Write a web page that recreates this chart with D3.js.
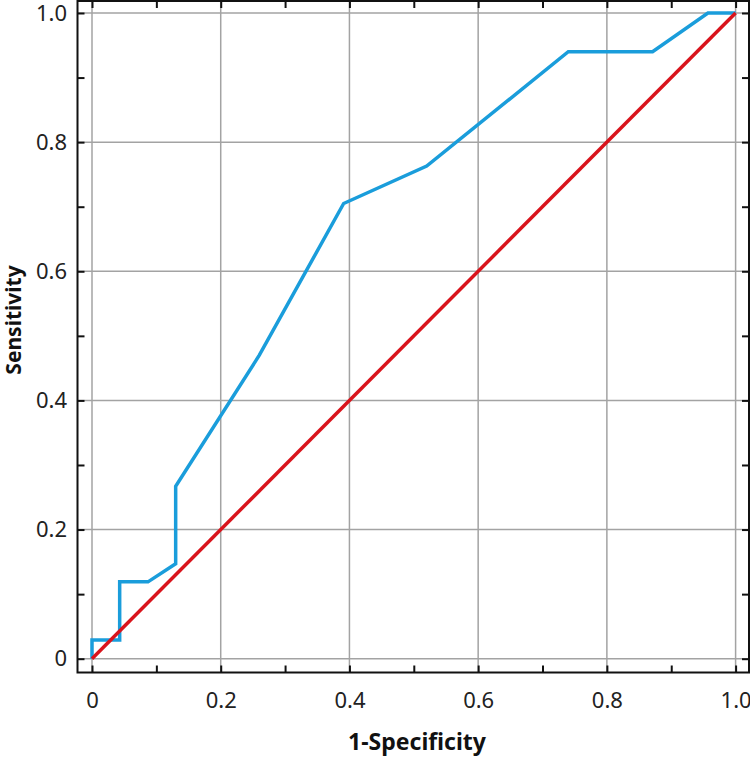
<!DOCTYPE html>
<html>
<head>
<meta charset="utf-8">
<script src="https://cdn.jsdelivr.net/npm/d3@7"></script>
<style>
  body { margin: 0; background: #fff; }
  text { font-family: "Noto Sans", "Open Sans", sans-serif; }
</style>
</head>
<body>
<div id="chart-container"></div>
<script>
// ROC curve points (1-specificity, sensitivity)
var fpr = [0, 0, 0.043, 0.043, 0.087, 0.13, 0.13, 0.26, 0.391, 0.52, 0.74, 0.871, 0.957, 1.0];
var tpr = [0, 0.029, 0.029, 0.119, 0.119, 0.147, 0.267, 0.47, 0.705, 0.763, 0.94, 0.94, 1.0, 1.0];
// reference diagonal
var refX = [0, 1];
var refY = [0, 1];

var majorTicks = [0, 0.2, 0.4, 0.6, 0.8, 1.0];
var minorTicks = [0.1, 0.3, 0.5, 0.7, 0.9];
var tickLabels = ["0", "0.2", "0.4", "0.6", "0.8", "1.0"];

var width = 750,
    height = 757;

var svg = d3.select("#chart-container")
  .append("svg")
    .attr("width", width)
    .attr("height", height)
    .style("background", "#fff");

// scales: 0..1 maps to the inner area, frame sits a little outside
var xScale = d3.scaleLinear().domain([0, 1]).range([92, 735.6]);
var yScale = d3.scaleLinear().domain([0, 1]).range([658.7, 13]);

var frame = {left: 77.5, right: 749, top: 1, bottom: 672.5};

// gridlines
var grid = svg.append("g");
grid.selectAll(".gx")
  .data(majorTicks)
  .enter()
  .append("line")
    .attr("x1", d => xScale(d)).attr("x2", d => xScale(d))
    .attr("y1", frame.top).attr("y2", frame.bottom)
    .attr("stroke", "#a3a3a3")
    .attr("stroke-width", 1.5);
grid.selectAll(".gy")
  .data(majorTicks)
  .enter()
  .append("line")
    .attr("y1", d => yScale(d)).attr("y2", d => yScale(d))
    .attr("x1", frame.left).attr("x2", frame.right)
    .attr("stroke", "#a3a3a3")
    .attr("stroke-width", 1.5);

// ROC curve
var line = d3.line()
  .x(d => xScale(d[0]))
  .y(d => yScale(d[1]));

svg.append("path")
  .datum(fpr.map((v, i) => [v, tpr[i]]))
  .attr("d", line)
  .attr("fill", "none")
  .attr("stroke", "#1a9ddb")
  .attr("stroke-width", 3.5)
  .attr("stroke-linejoin", "miter");

// diagonal
svg.append("path")
  .datum(refX.map((v, i) => [v, refY[i]]))
  .attr("d", line)
  .attr("fill", "none")
  .attr("stroke", "#d9141c")
  .attr("stroke-width", 3.5);

// axes with inward ticks on all four sides
var allTicks = majorTicks.concat(minorTicks);
var tickLen = 7;

function fmt(d) {
  var i = majorTicks.indexOf(d);
  return i >= 0 ? tickLabels[i] : "";
}

var xBottom = svg.append("g")
  .attr("transform", "translate(0," + frame.bottom + ")")
  .call(d3.axisBottom(xScale).tickValues(allTicks).tickSize(-tickLen).tickPadding(19.5).tickFormat(fmt));
var xTop = svg.append("g")
  .attr("transform", "translate(0," + frame.top + ")")
  .call(d3.axisTop(xScale).tickValues(allTicks).tickSize(-tickLen).tickFormat(""));
var yLeft = svg.append("g")
  .attr("transform", "translate(" + frame.left + ",0)")
  .call(d3.axisLeft(yScale).tickValues(allTicks).tickSize(-tickLen).tickPadding(10.5).tickFormat(fmt));
var yRight = svg.append("g")
  .attr("transform", "translate(" + frame.right + ",0)")
  .call(d3.axisRight(yScale).tickValues(allTicks).tickSize(-tickLen).tickFormat(""));

[xBottom, xTop, yLeft, yRight].forEach(g => {
  g.select(".domain").remove();
  g.selectAll(".tick line").attr("stroke", "#111").attr("stroke-width", 2);
  g.selectAll(".tick text")
    .attr("fill", "#222")
    .style("font-size", "22px")
    .style("font-family", "'Noto Sans', sans-serif");
});

// frame
svg.append("rect")
  .attr("x", frame.left).attr("y", frame.top)
  .attr("width", frame.right - frame.left)
  .attr("height", frame.bottom - frame.top)
  .attr("fill", "none")
  .attr("stroke", "#111")
  .attr("stroke-width", 2);

// axis titles
svg.append("text")
  .attr("x", 417)
  .attr("y", 750)
  .attr("text-anchor", "middle")
  .style("font-size", "23px")
  .style("font-weight", "bold")
  .attr("fill", "#111")
  .text("1-Specificity");

svg.append("text")
  .attr("transform", "translate(21,320) rotate(-90)")
  .attr("text-anchor", "middle")
  .style("font-size", "21px")
  .style("font-weight", "bold")
  .attr("fill", "#111")
  .text("Sensitivity");
</script>
</body>
</html>
